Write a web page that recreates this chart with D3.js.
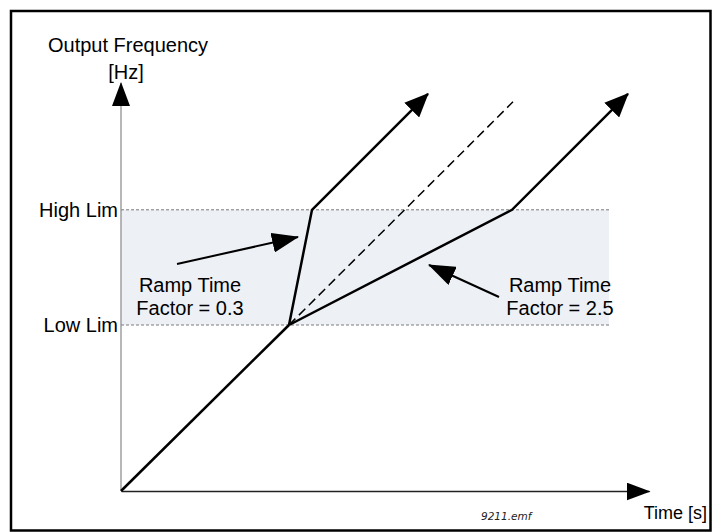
<!DOCTYPE html>
<html><head><meta charset="utf-8">
<script src="https://cdn.jsdelivr.net/npm/d3@7"></script>
<style>
html,body{margin:0;padding:0;background:#fff;}
svg{display:block;font-family:"Liberation Sans",Arial,sans-serif;}
</style></head><body>
<svg id="c" width="712" height="532"></svg>
<script>
// ---- data (schematic units) ----
const limitNames  = ["Low Lim", "High Lim"];
const limitValues = [41.5, 70.3];
const bandEndTime = 122;

const baseTimes = [0, 42];
const baseFreqs = [0, 41.5];

const fastTimes = [42, 47.75, 76.75];      // Ramp Time Factor = 0.3
const fastFreqs = [41.5, 70.3, 99.3];

const nominalTimes = [42, 98];             // dashed, factor = 1
const nominalFreqs = [41.5, 97.3];

const slowTimes = [42, 97.75, 126.75];     // Ramp Time Factor = 2.5
const slowFreqs = [41.5, 70.3, 99.3];

const noteLines  = [["Ramp Time", "Factor = 0.3"], ["Ramp Time", "Factor = 2.5"]];
const noteAnchor = [[17.25, 49.75], [109.75, 49.75]];
const noteFrom   = [[14, 56.75], [94.5, 48.5]];
const noteTo     = [[44.25, 63.5], [77, 56.5]];

const yTitle = ["Output Frequency", "[Hz]"];
const xTitle = "Time [s]";
const fileTag = "9211.emf";

// ---- drawing ----
const svg = d3.select("#c");
const x = d3.scaleLinear().domain([0, 132]).range([121, 649]);
const y = d3.scaleLinear().domain([0, 102]).range([491, 83]);

// frame
svg.append("rect").attr("x", 11).attr("y", 11).attr("width", 699.5).attr("height", 519.5)
  .attr("fill", "none").attr("stroke", "#000").attr("stroke-width", 2.5);

const defs = svg.append("defs");
function marker(id, len, hw) {
  defs.append("marker").attr("id", id)
    .attr("markerUnits", "userSpaceOnUse")
    .attr("viewBox", `0 ${-hw} ${len} ${2*hw}`)
    .attr("refX", len - 1).attr("refY", 0)
    .attr("markerWidth", len).attr("markerHeight", 2*hw)
    .attr("orient", "auto")
    .append("path").attr("d", `M0,${-hw}L${len},0L0,${hw}Z`).attr("fill", "#000");
}
marker("axArrow", 24, 9);
marker("lnArrow", 24, 10.5);
marker("noteArrow", 27, 10);

// band
const yLow = y(d3.min(limitValues)), yHigh = y(d3.max(limitValues));
svg.append("rect").attr("x", x(0)).attr("y", yHigh)
  .attr("width", x(bandEndTime) - x(0)).attr("height", yLow - yHigh)
  .attr("fill", "#edf0f5");

// limit dashed lines
svg.selectAll(".lim").data(limitValues).join("line")
  .attr("x1", x(0)).attr("x2", x(bandEndTime))
  .attr("y1", d => y(d)).attr("y2", d => y(d))
  .attr("stroke", "#7a7a7a").attr("stroke-width", 1).attr("stroke-dasharray", "3,2");

// axes
const yAxis = d3.axisLeft(y).tickValues(limitValues)
  .tickFormat((d, i) => limitNames[i]).tickSize(0).tickSizeOuter(0).tickPadding(3);
const gy = svg.append("g").attr("transform", `translate(${x(0)},0)`).call(yAxis);
gy.select(".domain").attr("stroke", "#888").attr("stroke-width", 1.2).attr("marker-end", "url(#axArrow)")
  .attr("d", `M0,${y(0)}V${y(102)}`);
gy.selectAll("text").attr("font-size", 20).attr("font-family", "Liberation Sans, Arial, sans-serif").attr("fill", "#000");

const xAxis = d3.axisBottom(x).tickValues([]).tickSizeOuter(0);
const gx = svg.append("g").attr("transform", `translate(0,${y(0)})`).call(xAxis);
gx.select(".domain").attr("stroke", "#222").attr("stroke-width", 1.4).attr("marker-end", "url(#axArrow)");

// series
const line = d3.line().x(d => x(d[0])).y(d => y(d[1]));
const zip = (a, b) => a.map((v, i) => [v, b[i]]);

svg.append("path").attr("d", line(zip(nominalTimes, nominalFreqs)))
  .attr("fill", "none").attr("stroke", "#000").attr("stroke-width", 1.5).attr("stroke-dasharray", "9,5");
svg.append("path").attr("d", line(zip(baseTimes, baseFreqs)))
  .attr("fill", "none").attr("stroke", "#000").attr("stroke-width", 2.5);
[zip(fastTimes, fastFreqs), zip(slowTimes, slowFreqs)].forEach(s => {
  svg.append("path").attr("d", line(s)).attr("fill", "none")
    .attr("stroke", "#000").attr("stroke-width", 2.5).attr("stroke-linejoin", "miter")
    .attr("marker-end", "url(#lnArrow)");
});

// annotations
noteLines.forEach((lines, i) => {
  svg.append("line")
    .attr("x1", x(noteFrom[i][0])).attr("y1", y(noteFrom[i][1]))
    .attr("x2", x(noteTo[i][0])).attr("y2", y(noteTo[i][1]))
    .attr("stroke", "#000").attr("stroke-width", 2).attr("marker-end", "url(#noteArrow)");
  const t = svg.append("text").attr("text-anchor", "middle").attr("font-size", 20)
    .attr("x", x(noteAnchor[i][0])).attr("y", y(noteAnchor[i][1]));
  lines.forEach((s, j) => t.append("tspan").attr("x", x(noteAnchor[i][0])).attr("dy", j ? 23 : 0).text(s));
});

// titles
const yt = svg.append("text").attr("text-anchor", "middle").attr("font-size", 20)
  .attr("x", x(0) + 7).attr("y", 52);
yTitle.forEach((s, j) => yt.append("tspan").attr("x", x(0) + 7 - j * 2).attr("dy", j ? 27 : 0).text(s));

svg.append("text").attr("x", 707).attr("y", 519).attr("text-anchor", "end")
  .attr("font-size", 18).text(xTitle);
svg.append("text").attr("x", 481).attr("y", 520).attr("font-size", 10.5)
  .attr("font-family", "DejaVu Sans, Verdana, sans-serif").attr("font-style", "italic")
  .attr("fill", "#222").text(fileTag);
</script></body></html>
